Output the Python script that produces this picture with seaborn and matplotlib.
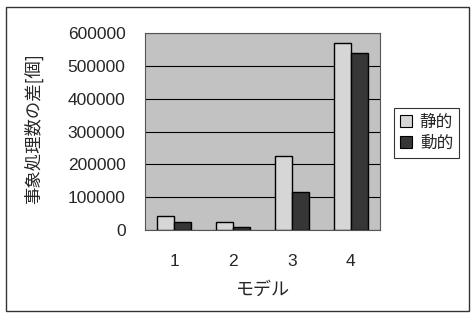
import matplotlib
matplotlib.use("Agg")
import matplotlib.pyplot as plt
import seaborn as sns
import pandas as pd
from matplotlib.patches import Rectangle

models = ["1", "2", "3", "4"]
static_vals = [43000, 25000, 226000, 570000]
dynamic_vals = [25000, 10000, 115000, 538000]
series = ["静的", "動的"]
yticks = [0, 100000, 200000, 300000, 400000, 500000, 600000]

df = pd.DataFrame({
    "model": models * 2,
    "value": static_vals + dynamic_vals,
    "kind": [series[0]] * 4 + [series[1]] * 4,
})

sns.set_style("white")
plt.rcParams['font.family'] = ['Liberation Sans', 'Noto Sans CJK JP', 'DejaVu Sans']

fig = plt.figure(figsize=(4.71, 3.14), dpi=100)
ax = fig.add_axes([145/471, 1 - 230/314, 235/471, 197/314])
ax.set_facecolor("#c2c2c2")

sns.barplot(data=df, x="model", y="value", hue="kind", ax=ax,
            palette=["#d6d6d6", "#363636"], width=0.58,
            edgecolor="black", linewidth=1.0, saturation=1, legend=False, zorder=3)

ax.set_ylim(0, 600000)
ax.set_xlim(-0.5, 3.5)
ax.set_yticks(yticks)
ax.set_yticklabels([str(v) for v in yticks], fontsize=12.5)
ax.tick_params(axis='y', length=0, pad=14)
ax.tick_params(axis='x', length=0, pad=17, labelsize=12.5)
ax.grid(axis='y', color='black', linewidth=0.8, zorder=1)
ax.set_axisbelow(True)
for s in ax.spines.values():
    s.set_color('#555555')
    s.set_linewidth(0.8)
ax.set_xticks([0.5, 1.5, 2.5], minor=True)
ax.tick_params(axis='x', which='minor', direction='in', length=4, color='black')

ax.set_xlabel("モデル", family=['Noto Sans CJK JP'], fontsize=13, labelpad=9)
ax.set_ylabel("事象処理数の差[個]", family=['Noto Sans CJK JP'], fontsize=12.5)
ax.yaxis.set_label_coords(-102 / 235, (230 - 129) / 197)

handles = [Rectangle((0, 0), 1, 1, facecolor="#d6d6d6", edgecolor="black", linewidth=0.8),
           Rectangle((0, 0), 1, 1, facecolor="#363636", edgecolor="black", linewidth=0.8)]
leg = fig.legend(handles, series, loc='upper left', bbox_to_anchor=(394/471, 1 - 108/314),
                 prop={'family': 'Noto Sans CJK JP', 'size': 12}, frameon=True,
                 fancybox=False, edgecolor='black', handlelength=0.7, handleheight=0.7,
                 handletextpad=0.5, borderpad=0.35, labelspacing=0.25, borderaxespad=0)
leg.get_frame().set_linewidth(0.8)

fig.patches.append(Rectangle((6/471, 3/314), 463/471, 304/314, transform=fig.transFigure,
                             fill=False, edgecolor='#333333', linewidth=1.0))

fig.savefig("out.png", dpi=100)
